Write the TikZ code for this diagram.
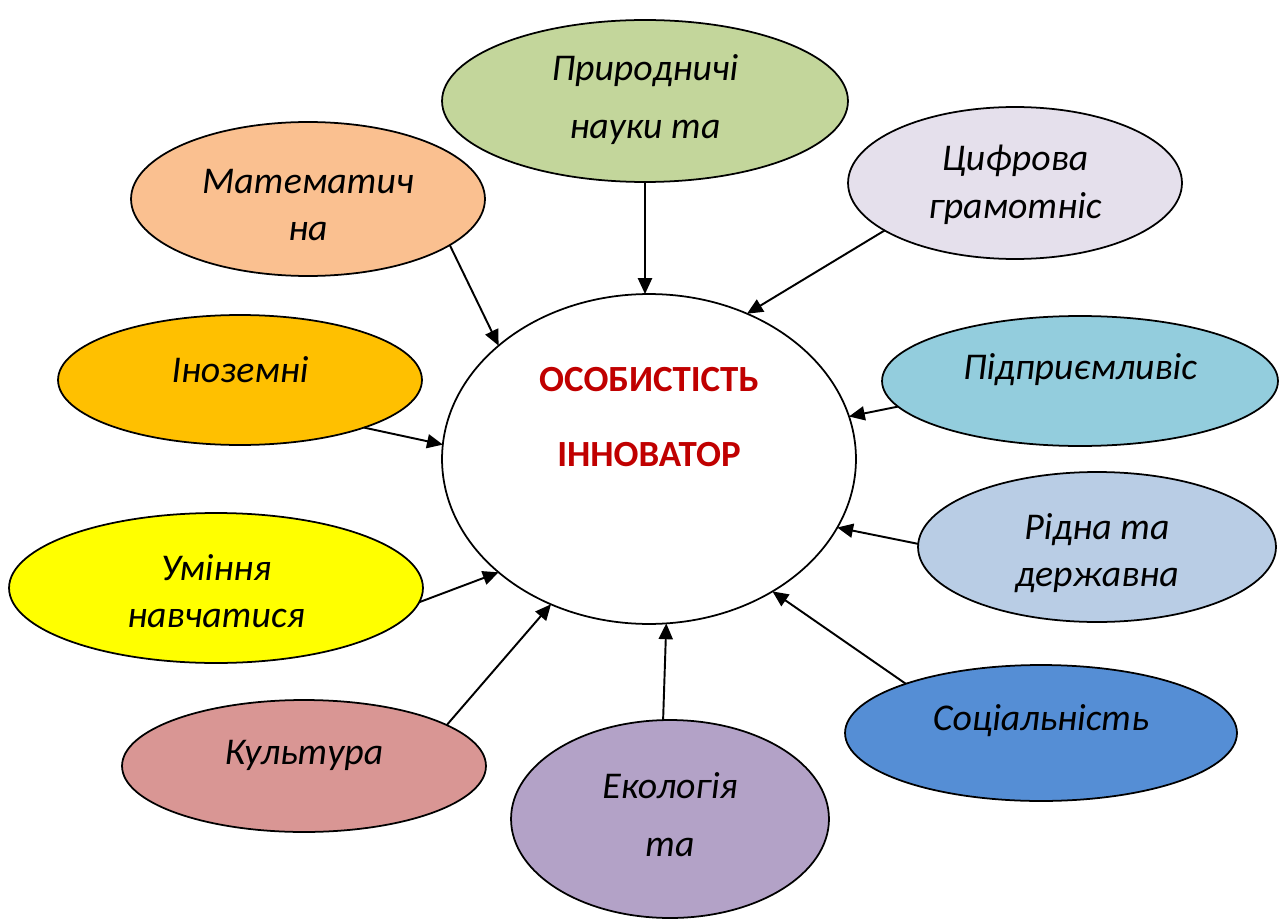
\documentclass[tikz,border=0pt]{standalone}
\usepackage{fontspec}
\setmainfont{Carlito}
\usepackage{xcolor}
\usetikzlibrary{positioning,shapes.geometric,arrows.meta}

\definecolor{innored}{HTML}{C00000}
\definecolor{fpryr}{HTML}{C3D69B}
\definecolor{fmat}{HTML}{FAC090}
\definecolor{fcyfr}{HTML}{E5E0EC}
\definecolor{finoz}{HTML}{FFC000}
\definecolor{fpidp}{HTML}{93CDDD}
\definecolor{fumin}{HTML}{FFFF00}
\definecolor{fridn}{HTML}{B9CDE5}
\definecolor{fkult}{HTML}{D99694}
\definecolor{fekol}{HTML}{B3A2C7}
\definecolor{fsoc}{HTML}{558ED5}

\tikzset{
  elps/.style={ellipse, draw, line width=1pt, inner sep=0pt, outer sep=0pt},
  lbl/.style={align=center, font=\fontsize{21.5}{27}\selectfont\itshape},
  feed/.style={-{Triangle[length=9pt,width=8pt]}, line width=1.1pt}
}

\begin{document}
\begin{tikzpicture}[x=0.02cm, y=-0.02cm]
  \useasboundingbox (0,0) rectangle (1287,922);

  % Nodes
  \node[elps, minimum width=8.28cm, minimum height=6.6cm] (centr) at (649,459) {};
  \node[elps, fill=fpryr, minimum width=8.12cm, minimum height=3.24cm] (pryr) at (645,101) {};
  \node[elps, fill=fmat, minimum width=7.08cm, minimum height=3.08cm] (mat) at (308,199) {};
  \node[elps, fill=fcyfr, minimum width=6.68cm, minimum height=3.04cm] (cyfr) at (1015,183) {};
  \node[elps, fill=finoz, minimum width=7.28cm, minimum height=2.6cm] (inoz) at (240,380) {};
  \node[elps, fill=fpidp, minimum width=7.92cm, minimum height=2.6cm] (pidp) at (1080,381) {};
  \node[elps, fill=fumin, minimum width=8.28cm, minimum height=3.0cm] (umin) at (216,588) {};
  \node[elps, fill=fridn, minimum width=7.16cm, minimum height=3.0cm] (ridn) at (1097,547) {};
  \node[elps, fill=fkult, minimum width=7.28cm, minimum height=2.64cm] (kult) at (304,766) {};
  \node[elps, fill=fekol, minimum width=6.36cm, minimum height=3.96cm] (ekol) at (670,819) {};
  \node[elps, fill=fsoc, minimum width=7.84cm, minimum height=2.72cm] (soc) at (1041,733) {};

  % Texts
  \node[align=center, text=innored, font=\fontsize{21}{25}\selectfont\bfseries] (centr-t) at (649,417) {ОСОБИСТІСТЬ\\[18pt]ІННОВАТОР};
  \node[lbl] (pryr-t) at (645,100) {Природничі\\[6pt]науки та};
  \node[lbl] (mat-t) at (308,205) {Математич\\на};
  \node[lbl] (cyfr-t) at (1015,185) {Цифрова\\грамотніс};
  \node[lbl] (inoz-t) at (240,370) {Іноземні};
  \node[lbl] (pidp-t) at (1080,370) {Підприємливіс};
  \node[lbl] (ridn-t) at (1097,553) {Рідна та\\державна};
  \node[lbl] (umin-t) at (216,591) {Уміння\\навчатися};
  \node[lbl] (kult-t) at (304,755) {Культура};
  \node[lbl] (ekol-t) at (670,815) {Екологія\\[6pt]та};
  \node[lbl] (soc-t) at (1041,721) {Соціальність};

  % Arrows
  \draw[feed] (pryr.south) -- (pryr.south |- centr.north);
  \draw[feed] (mat.-18) -- (centr.143);
  \draw[feed] (cyfr.-160) -- (centr.56);
  \draw[feed] (inoz.-21) -- (centr.176);
  \draw[feed] (pidp.-172) -- (centr.12);
  \draw[feed] (ridn.179) -- (centr.-20);
  \draw[feed] (umin.-4) -- (centr.-143.5);
  \draw[feed] (kult.16.5) -- (centr.-124.6);
  \draw[feed] (ekol.94.7) -- (centr.-84.5);
  \draw[feed] (soc.160.8) -- (centr.-47.7);
\end{tikzpicture}
\end{document}
